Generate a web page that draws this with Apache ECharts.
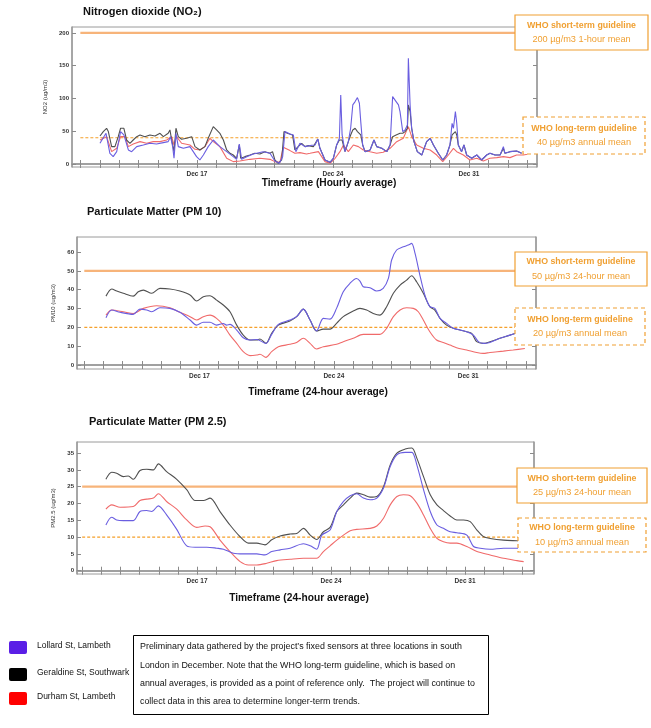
<!DOCTYPE html>
<html><head><meta charset="utf-8">
<script src="https://cdn.jsdelivr.net/npm/echarts@6/dist/echarts.min.js"></script>
<style>html,body{margin:0;padding:0;background:#fff}#c{width:651px;height:728px}</style>
</head><body><div id="c"></div><script>
// ---- data (x = day of December; 32 = Jan 1) ----
const stations = ['Lollard St, Lambeth', 'Geraldine St, Southwark', 'Durham St, Lambeth'];
const dateLabels = [17, 24, 31];
const dayTicks = [11,12,13,14,15,16,17,18,19,20,21,22,23,24,25,26,27,28,29,30,31,32,33,34];
const no2Ticks = [0, 50, 100, 150, 200];
const pm10Ticks = [0, 10, 20, 30, 40, 50, 60];
const pm25Ticks = [0, 5, 10, 15, 20, 25, 30, 35];
const no2Guides = [200, 40];
const pm10Guides = [50, 20];
const pm25Guides = [25, 10];
const guideSpan = [11, 34.4];

const no2Lollard = [[12.01,31.6],[12.32,46.8],[12.52,16.3],[12.69,11.2],[12.87,18.8],[13.07,49.4],[13.24,44.3],[13.47,21.4],[13.64,18.8],[13.90,26.5],[14.24,29.0],[14.58,31.6],[14.92,30.5],[15.27,32.6],[15.52,34.1],[15.64,41.7],[15.75,26.5],[15.82,8.7],[15.92,46.8],[16.04,26.5],[16.30,23.9],[16.64,26.5],[16.81,18.8],[16.98,11.2],[17.15,6.1],[17.33,13.7],[17.58,26.5],[17.84,36.6],[18.18,26.5],[18.53,18.8],[18.87,11.2],[19.04,7.1],[19.18,30.5],[19.30,7.1],[19.56,11.2],[19.90,15.3],[20.41,18.8],[20.76,16.3],[21.01,4.6],[21.24,1.0],[21.41,11.2],[21.53,49.4],[21.79,45.8],[21.96,44.3],[22.09,18.8],[22.30,31.6],[22.56,26.5],[22.90,28.5],[23.08,29.0],[23.22,38.0],[23.33,23.9],[23.59,6.1],[23.85,2.5],[24.02,8.7],[24.19,29.0],[24.33,39.2],[24.40,105.3],[24.47,44.3],[24.62,18.8],[24.79,34.1],[24.91,54.5],[25.02,90.1],[25.14,95.2],[25.26,101.3],[25.36,92.6],[25.43,64.6],[25.53,29.0],[25.65,18.8],[25.91,21.4],[26.11,36.6],[26.25,26.5],[26.51,23.9],[26.77,18.8],[26.94,29.0],[27.07,102.8],[27.25,95.2],[27.37,90.1],[27.45,79.9],[27.59,49.4],[27.71,51.9],[27.83,59.5],[27.88,161.3],[27.97,90.1],[28.05,54.5],[28.17,34.1],[28.34,18.8],[28.57,13.7],[28.82,34.1],[29.00,39.2],[29.17,29.0],[29.42,16.3],[29.65,6.1],[29.85,13.7],[30.02,29.0],[30.13,62.1],[30.20,54.5],[30.30,79.9],[30.37,62.1],[30.45,29.0],[30.62,18.8],[30.74,29.0],[30.88,13.7],[31.14,8.7],[31.40,13.7],[31.65,6.1],[31.91,13.7],[32.08,16.3],[32.34,13.7],[32.60,13.7],[32.77,26.5],[32.85,16.3],[33.11,18.8],[33.45,19.8],[33.71,16.3]];
const no2Geraldine = [[12.01,42.7],[12.18,49.4],[12.35,54.5],[12.44,49.4],[12.61,26.5],[12.78,26.5],[12.95,41.7],[13.07,54.5],[13.24,54.5],[13.38,36.6],[13.55,31.6],[13.72,36.6],[13.90,41.7],[14.07,44.3],[14.32,41.7],[14.58,44.3],[14.84,42.7],[15.10,46.8],[15.27,41.7],[15.52,46.8],[15.61,51.9],[15.70,36.6],[15.82,18.8],[15.92,54.5],[16.04,41.7],[16.21,37.7],[16.47,39.2],[16.73,41.7],[16.90,26.5],[17.15,21.4],[17.41,26.5],[17.58,39.2],[17.84,57.0],[18.01,51.9],[18.18,46.8],[18.36,36.6],[18.53,21.4],[18.70,16.3],[18.87,13.7],[19.04,8.7],[19.18,29.0],[19.25,8.7],[19.47,11.2],[19.73,13.7],[19.98,16.3],[20.24,15.3],[20.50,18.8],[20.76,16.3],[20.89,18.8],[21.01,6.1],[21.19,1.0],[21.36,6.1],[21.48,49.4],[21.65,46.8],[21.92,44.3],[22.04,21.4],[22.21,26.5],[22.39,31.6],[22.56,26.5],[22.73,28.0],[22.99,26.5],[23.08,29.0],[23.22,38.0],[23.33,23.9],[23.59,6.1],[23.85,2.5],[24.02,8.7],[24.19,29.0],[24.33,36.6],[24.40,39.2],[24.47,36.6],[24.62,18.8],[24.79,34.1],[24.91,44.3],[25.02,51.9],[25.14,54.5],[25.26,49.4],[25.36,51.9],[25.43,44.3],[25.53,29.0],[25.65,18.8],[25.91,21.4],[26.11,36.6],[26.25,26.5],[26.51,23.9],[26.77,18.8],[26.94,29.0],[27.07,41.7],[27.25,44.3],[27.45,46.8],[27.59,46.8],[27.71,49.4],[27.83,54.5],[27.88,90.1],[27.97,80.0],[28.05,54.5],[28.17,34.1],[28.34,18.8],[28.57,13.7],[28.82,34.1],[29.00,39.2],[29.17,29.0],[29.42,16.3],[29.65,6.1],[29.85,13.7],[30.02,29.0],[30.13,44.3],[30.20,41.7],[30.30,49.4],[30.37,44.3],[30.45,29.0],[30.62,18.8],[30.74,29.0],[30.88,13.7],[31.14,8.7],[31.40,13.7],[31.65,6.1],[31.91,13.7],[32.08,16.3],[32.34,13.7],[32.60,13.7],[32.77,24.0],[32.85,16.3],[33.11,18.8],[33.45,19.8],[33.71,16.3]];
const no2Durham = [[12.01,36.6],[12.35,41.7],[12.61,18.8],[12.87,23.9],[13.07,41.7],[13.30,41.7],[13.47,26.5],[13.72,30.5],[14.07,34.1],[14.41,31.6],[14.75,34.1],[15.10,34.1],[15.44,36.6],[15.70,41.7],[15.82,29.0],[15.95,41.7],[16.21,31.6],[16.64,29.0],[16.90,22.4],[17.15,21.4],[17.41,26.5],[17.67,39.2],[17.84,34.1],[18.18,26.5],[18.53,8.7],[18.87,3.6],[19.21,4.6],[19.73,7.1],[20.24,8.7],[20.76,7.1],[21.01,3.6],[21.27,2.5],[21.44,25.4],[21.79,20.4],[22.04,16.3],[22.30,17.3],[22.64,15.3],[22.82,16.3],[23.25,18.8],[23.59,3.6],[23.85,1.0],[24.11,8.7],[24.36,18.8],[24.54,29.0],[24.79,18.8],[25.05,29.0],[25.31,26.5],[25.56,21.4],[25.91,18.8],[26.25,16.3],[26.59,17.8],[26.94,23.9],[27.28,34.1],[27.62,39.2],[27.88,57.0],[28.05,41.7],[28.31,29.0],[28.65,23.9],[29.00,21.4],[29.34,13.7],[29.65,3.6],[29.94,13.7],[30.20,23.9],[30.37,18.8],[30.71,13.7],[31.05,6.1],[31.40,8.7],[31.74,4.6],[32.08,8.7],[32.43,9.7],[32.77,11.2],[33.11,9.7],[33.45,13.7],[33.80,13.7],[34.00,14.8]];

const pm10Lollard = [[12.13,25.1],[12.43,29.2],[12.86,28.0],[13.55,26.9],[13.90,29.7],[14.25,29.2],[14.51,28.3],[14.94,30.4],[15.46,30.1],[15.98,28.0],[16.51,23.9],[16.85,21.2],[17.20,22.7],[17.55,22.7],[17.89,21.2],[18.24,22.1],[18.41,21.2],[18.59,21.6],[18.94,18.6],[19.28,14.5],[19.63,13.3],[19.98,13.6],[20.46,11.5],[20.76,16.3],[21.11,21.6],[21.71,23.9],[22.06,25.7],[22.41,29.7],[22.76,23.9],[23.10,18.1],[23.45,24.8],[23.80,24.4],[24.14,30.1],[24.49,38.9],[24.84,43.4],[25.18,46.0],[25.36,44.6],[25.53,41.6],[25.88,41.1],[26.23,39.3],[26.57,40.7],[26.84,46.0],[27.01,55.8],[27.27,61.1],[27.62,62.8],[27.88,63.7],[28.05,64.6],[28.23,59.3],[28.48,47.8],[28.74,37.2],[29.00,31.0],[29.26,30.1],[29.53,24.8],[29.87,22.1],[30.22,19.5],[30.57,18.6],[30.92,17.7],[31.27,15.9],[31.53,12.4],[31.78,11.5],[32.13,12.0],[32.65,14.2],[33.17,15.9],[33.43,16.8]];
const pm10Geraldine = [[12.13,36.6],[12.43,40.4],[12.69,39.3],[13.03,38.1],[13.55,36.6],[13.81,38.9],[14.08,39.8],[14.51,38.1],[14.94,40.7],[15.46,40.4],[15.98,39.3],[16.51,37.2],[16.85,34.0],[17.20,36.3],[17.55,36.8],[17.89,34.5],[18.24,31.9],[18.59,28.3],[18.94,21.2],[19.28,15.9],[19.63,13.3],[19.98,13.3],[20.15,13.8],[20.46,11.5],[20.76,16.8],[21.11,21.2],[21.71,23.4],[22.06,25.7],[22.41,29.7],[22.76,23.9],[23.10,18.1],[23.45,19.1],[23.80,19.1],[24.14,22.1],[24.49,25.7],[25.01,28.7],[25.36,30.1],[25.71,29.2],[26.05,27.4],[26.40,26.5],[26.75,31.0],[27.10,38.1],[27.45,42.5],[27.79,45.1],[28.05,47.4],[28.31,44.2],[28.66,38.1],[29.00,31.0],[29.26,29.2],[29.53,24.8],[29.87,21.2],[30.22,19.5],[30.57,18.6],[30.92,17.7],[31.18,16.8],[31.44,12.4],[31.78,11.5],[32.13,12.4],[32.65,14.2],[33.17,15.9],[33.43,16.8]];
const pm10Durham = [[12.13,26.5],[12.43,29.2],[13.03,28.3],[13.55,27.4],[14.08,30.1],[14.77,31.5],[15.46,30.4],[15.98,28.0],[16.51,25.7],[16.85,23.9],[17.20,25.7],[17.55,26.5],[17.89,24.8],[18.24,21.2],[18.59,15.9],[18.94,11.5],[19.28,7.1],[19.63,5.0],[19.98,5.3],[20.15,5.7],[20.46,4.1],[20.76,7.1],[21.11,9.7],[21.71,11.0],[22.06,12.0],[22.41,14.2],[22.76,11.5],[23.10,8.5],[23.45,9.7],[24.14,11.0],[24.49,12.4],[25.01,14.2],[25.53,16.3],[26.05,16.3],[26.40,16.3],[26.75,19.5],[27.10,25.7],[27.45,29.2],[27.79,30.4],[28.14,30.1],[28.40,28.3],[28.66,23.9],[29.00,17.7],[29.35,13.3],[29.70,12.0],[30.05,10.6],[30.39,9.2],[30.92,8.0],[31.44,6.7],[31.78,6.2],[32.13,6.7],[32.83,7.4],[33.34,8.0],[33.95,8.8]];

const pm25Lollard = [[12.24,13.6],[12.54,15.9],[12.80,15.1],[13.15,14.9],[13.67,14.9],[14.02,17.6],[14.37,17.9],[14.63,17.6],[14.98,19.3],[15.41,16.6],[15.94,12.3],[16.46,7.4],[16.90,7.0],[17.51,7.0],[18.03,6.7],[18.38,6.4],[18.90,5.2],[19.42,5.0],[20.12,5.0],[20.55,4.7],[20.90,5.7],[21.34,6.2],[21.86,6.7],[22.56,8.0],[22.91,7.4],[23.25,6.4],[23.52,10.6],[23.95,12.1],[24.30,17.6],[24.65,20.6],[25.00,22.3],[25.34,22.9],[25.69,21.6],[26.04,21.1],[26.39,21.6],[26.74,24.6],[27.09,31.0],[27.44,34.5],[27.87,35.2],[28.22,35.2],[28.48,31.5],[28.83,24.1],[29.18,17.6],[29.53,13.6],[29.87,12.6],[30.22,11.6],[30.57,11.3],[31.09,10.6],[31.44,7.2],[31.79,6.7],[32.31,6.4],[33.01,6.7],[33.71,6.7],[34.06,6.7]];
const pm25Geraldine = [[12.24,27.2],[12.54,29.3],[12.80,29.0],[13.15,28.0],[13.41,28.2],[13.67,27.2],[14.02,29.8],[14.37,30.2],[14.72,30.0],[14.98,31.8],[15.41,29.5],[15.94,27.2],[16.46,24.1],[16.90,20.9],[17.33,20.9],[17.68,21.6],[18.20,17.6],[18.72,13.6],[19.25,10.1],[19.68,8.2],[20.12,8.2],[20.55,7.7],[20.90,9.2],[21.34,10.3],[21.86,10.9],[22.21,11.1],[22.56,12.6],[22.91,10.6],[23.25,9.3],[23.60,11.6],[23.95,12.9],[24.30,17.6],[24.65,19.6],[25.00,21.6],[25.34,23.1],[25.69,22.6],[26.04,21.9],[26.39,22.1],[26.74,25.0],[27.09,31.5],[27.44,35.0],[27.87,36.2],[28.22,36.5],[28.48,33.5],[28.83,28.0],[29.18,22.6],[29.53,19.6],[29.87,17.9],[30.22,16.3],[30.57,15.1],[30.92,15.1],[31.27,14.6],[31.62,12.1],[31.97,10.1],[32.31,9.6],[33.01,9.1],[33.71,8.9],[34.06,8.8]];
const pm25Durham = [[12.24,18.3],[12.54,19.6],[12.98,18.9],[13.67,19.1],[14.02,20.9],[14.37,21.3],[14.72,21.6],[14.98,22.9],[15.41,20.6],[15.94,18.3],[16.46,15.1],[16.98,12.9],[17.42,13.3],[17.68,13.1],[18.20,9.1],[18.72,5.7],[19.25,2.7],[19.68,1.7],[20.12,1.7],[20.64,2.2],[21.16,3.0],[21.86,3.4],[22.56,3.7],[23.25,3.7],[23.60,5.7],[23.95,7.4],[24.30,9.1],[24.65,10.6],[25.00,11.9],[25.34,12.3],[26.04,12.6],[26.39,13.3],[26.74,15.6],[27.09,19.6],[27.44,22.1],[27.78,22.6],[28.13,22.3],[28.48,20.1],[28.83,16.6],[29.18,12.6],[29.53,9.6],[29.87,8.6],[30.22,8.2],[30.57,8.2],[31.09,7.2],[31.62,5.7],[32.31,4.7],[33.01,3.7],[33.71,3.0],[34.06,2.7]];

const note = [
  'Preliminary data gathered by the project\u2019s fixed sensors at three locations in south',
  'London in December. Note that the WHO long-term guideline, which is based on',
  'annual averages, is provided as a point of reference only.  The project will continue to',
  'collect data in this area to determine longer-term trends.'
];

// ---- styling ----
const FONT = "'Liberation Sans',Arial,sans-serif";
const ORANGE = '#f0a032';
const lineColors = ['#6a5ee0', '#505050', '#f06a6a'];
const swatchColors = ['#5a1ee6', '#000000', '#ff0000'];

const panels = [
  {grid:{left:72, top:27, width:465, height:140}, xr:[10.57,34.5], yr:[-4.6,209], yTicks:no2Ticks, yName:'NO2 (ug/m3)', gap:10,
   data:[no2Lollard,no2Geraldine,no2Durham], guides:no2Guides, smooth:false},
  {grid:{left:77, top:237, width:459, height:132}, xr:[10.62,34.53], yr:[-2.1,68], yTicks:pm10Ticks, yName:'PM10 (ug/m3)', gap:3,
   data:[pm10Lollard,pm10Geraldine,pm10Durham], guides:pm10Guides, smooth:0.3},
  {grid:{left:77, top:442, width:457, height:132}, xr:[10.73,34.6], yr:[-0.98,38.3], yTicks:pm25Ticks, yName:'PM2.5 (ug/m3)', gap:3,
   data:[pm25Lollard,pm25Geraldine,pm25Durham], guides:pm25Guides, smooth:0.3}
];

const grid = [], xAxis = [], yAxis = [], series = [];
const axisLine = {show:true, lineStyle:{color:'#9a9a9a', width:1.5}};
panels.forEach((p, i) => {
  grid.push(Object.assign({show:true, borderColor:'#9a9a9a', borderWidth:1, backgroundColor:'#fff'}, p.grid));
  ['bottom','top'].forEach(pos => xAxis.push({
    type:'value', gridIndex:i, position:pos, min:p.xr[0], max:p.xr[1],
    axisLine:axisLine, splitLine:{show:false},
    axisTick:{show:true, inside:true, length:4, customValues:dayTicks, lineStyle:{color:'#8a8a8a'}},
    axisLabel:{show:pos==='bottom', customValues:dateLabels, formatter:v=>'Dec '+v, fontSize:6.5, fontWeight:'bold', color:'#333', margin:4, fontFamily:FONT}
  }));
  ['left','right'].forEach(pos => yAxis.push({
    type:'value', gridIndex:i, position:pos, min:p.yr[0], max:p.yr[1],
    axisLine:axisLine, splitLine:{show:false},
    axisTick:{show:true, inside:true, length:4, customValues:p.yTicks, lineStyle:{color:'#8a8a8a'}},
    axisLabel:{show:pos==='left', customValues:p.yTicks, fontSize:6, fontWeight:'bold', color:'#333', margin:3, fontFamily:FONT},
    name: pos==='left' ? p.yName : '', nameLocation:'middle', nameGap:p.gap, nameRotate:90,
    nameTextStyle:{fontSize:6, color:'#333', fontFamily:FONT}
  }));
  p.guides.forEach((g, k) => series.push({
    type:'line', xAxisIndex:2*i, yAxisIndex:2*i, silent:true, symbol:'none', z:1,
    data:[[guideSpan[0], g],[guideSpan[1], g]],
    lineStyle: k===0 ? {color:'#f7b47a', width:2.2} : {color:'#f5a02a', width:1.2, type:[3,2]}
  }));
  [2,1,0].forEach(s => series.push({
    type:'line', name:stations[s], xAxisIndex:2*i, yAxisIndex:2*i, symbol:'none', z:2+(2-s),
    smooth:p.smooth, data:p.data[s],
    lineStyle:{color:lineColors[s], width:1.1}
  }));
});

const graphic = [];
function txt(x, y, text, size, weight, color, align){
  graphic.push({type:'text', x:x, y:y, z:100, style:{text:text, fontSize:size, fontWeight:weight||'normal', fontFamily:FONT,
    fill:color||'#000', textAlign:align||'left', textVerticalAlign:'middle'}});
}
function box(x, y, w, h, dashed, l1, l2){
  graphic.push({type:'rect', z:90, shape:{x:x, y:y, width:w, height:h},
    style:{fill:'#fff', stroke:ORANGE, lineWidth:1.2, lineDash: dashed ? [4,3] : null}});
  txt(x + w/2, y + h/2 - 7, l1, 8.8, 'bold', ORANGE, 'center');
  txt(x + w/2, y + h/2 + 7, l2, 9.2, 'normal', ORANGE, 'center');
}
// titles
txt(83, 12, 'Nitrogen dioxide (NO\u2082)', 11, 'bold', '#111');
txt(87, 212, 'Particulate Matter (PM 10)', 11, 'bold', '#111');
txt(89, 422, 'Particulate Matter (PM 2.5)', 11, 'bold', '#111');
// x axis names
txt(329, 183, 'Timeframe (Hourly average)', 10.2, 'bold', '#111', 'center');
txt(318, 392.5, 'Timeframe (24-hour average)', 10.2, 'bold', '#111', 'center');
txt(299, 598, 'Timeframe (24-hour average)', 10.2, 'bold', '#111', 'center');
// guideline boxes
box(515, 15, 133, 35, false, 'WHO short-term guideline', no2Guides[0] + ' \u00b5g/m3 1-hour mean');
box(523, 117, 122, 37, true, 'WHO long-term guideline', no2Guides[1] + ' \u00b5g/m3 annual mean');
box(515, 252, 132, 34, false, 'WHO short-term guideline', pm10Guides[0] + ' \u00b5g/m3 24-hour mean');
box(515, 308, 130, 37, true, 'WHO long-term guideline', pm10Guides[1] + ' \u00b5g/m3 annual mean');
box(517, 468, 130, 35, false, 'WHO short-term guideline', pm25Guides[0] + ' \u00b5g/m3 24-hour mean');
box(518, 518, 128, 34, true, 'WHO long-term guideline', pm25Guides[1] + ' \u00b5g/m3 annual mean');
// legend
[641, 668, 692].forEach((y, s) => {
  graphic.push({type:'rect', z:90, shape:{x:9, y:y, width:18, height:13, r:2}, style:{fill:swatchColors[s]}});
  txt(37, y + 5, stations[s], 8.5, 'normal', '#111');
});
// note box
graphic.push({type:'rect', z:90, shape:{x:133.5, y:635.5, width:355, height:79}, style:{fill:'#fff', stroke:'#000', lineWidth:1}});
note.forEach((line, k) => txt(140, 647 + k*18.2, line, 8.9, 'normal', '#111'));

const chart = echarts.init(document.getElementById('c'), null, {renderer:'canvas'});
chart.setOption({animation:false, backgroundColor:'#fff', grid, xAxis, yAxis, series, graphic});
</script></body></html>
